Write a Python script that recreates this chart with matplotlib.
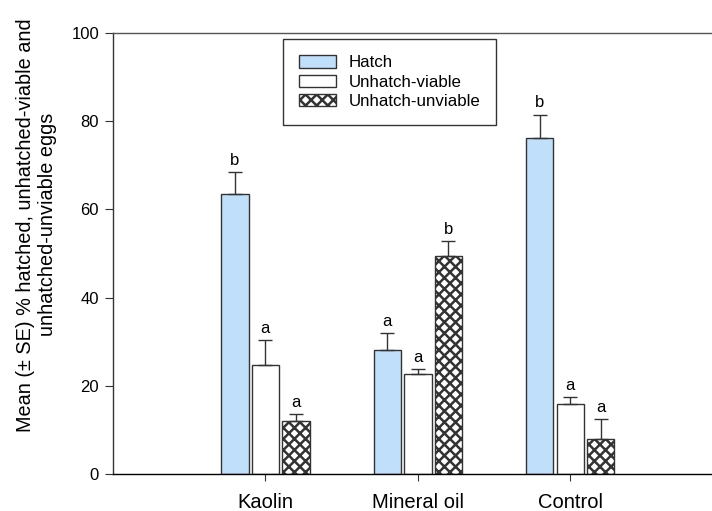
import numpy as np
import matplotlib
matplotlib.use("Agg")
import matplotlib.pyplot as plt

plt.rcParams['font.family'] = ['Liberation Sans', 'DejaVu Sans']
plt.rcParams['hatch.linewidth'] = 1.8
plt.rcParams['hatch.color'] = 'black'

# Data
treatments = ["Kaolin", "Mineral oil", "Control"]
series = ["Hatch", "Unhatch-viable", "Unhatch-unviable"]
hatch_mean = [63.4, 28.1, 76.3]
hatch_se = [5.0, 3.9, 5.2]
viable_mean = [24.8, 22.6, 15.9]
viable_se = [5.6, 1.1, 1.5]
unviable_mean = [12.0, 49.5, 8.0]
unviable_se = [1.6, 3.4, 4.5]
hatch_letters = ["b", "a", "b"]
viable_letters = ["a", "a", "a"]
unviable_letters = ["a", "b", "a"]

means = [hatch_mean, viable_mean, unviable_mean]
errs = [hatch_se, viable_se, unviable_se]
letters = [hatch_letters, viable_letters, unviable_letters]
faces = ["#c0dffb", "white", "white"]
hatches = [None, None, "xxx"]

fig = plt.figure(figsize=(7.12, 5.11), dpi=100)
ax = fig.add_axes([0.1587, 0.0724, 0.8413, 0.863])

x = np.arange(len(treatments))
width = 0.18
offsets = [-0.2, 0.0, 0.2]

for i in range(3):
    xs = x + offsets[i]
    ax.bar(xs, means[i], width, color=faces[i], edgecolor="#333333",
           linewidth=1.0, hatch=hatches[i], label=series[i], zorder=2)
    ax.errorbar(xs, means[i], yerr=[np.zeros(3), errs[i]], fmt="none",
                ecolor="#333333", elinewidth=1.0, capsize=5, capthick=1.0, zorder=3)
    for xx, m, e, t in zip(xs, means[i], errs[i], letters[i]):
        ax.annotate(t, (xx, m + e), xytext=(0, 3), textcoords="offset points",
                    ha="center", va="bottom", fontsize=12)

ax.set_xlim(-1.0, 2.93)
ax.set_ylim(0, 100)
ax.set_xticks(x)
ax.set_xticklabels(treatments, fontsize=14.5)
ax.set_yticks([0, 20, 40, 60, 80, 100])
ax.tick_params(axis="y", direction="out", length=6, labelsize=12, pad=4, color="#333333")
ax.tick_params(axis="x", direction="out", length=5, pad=9, color="#333333")

ax.spines["right"].set_visible(False)
ax.spines["top"].set_color("#555555")
ax.spines["left"].set_color("#333333")
ax.spines["bottom"].set_color("black")
for s in ["top", "left", "bottom"]:
    ax.spines[s].set_linewidth(1.0)

ax.set_ylabel("Mean (\u00b1 SE) % hatched, unhatched-viable and\nunhatched-unviable eggs",
              fontsize=14.3, linespacing=1.2)
ax.yaxis.set_label_coords(-0.0935, 0.565)

leg = ax.legend(loc="upper left", bbox_to_anchor=(0.284, 0.986), fontsize=12.2,
                frameon=True, fancybox=False, edgecolor="black", borderpad=0.95,
                handlelength=2.2, handleheight=0.75, labelspacing=0.25,
                handletextpad=0.7, borderaxespad=0)
leg.get_frame().set_linewidth(1.0)

fig.savefig("out.png", dpi=100)
